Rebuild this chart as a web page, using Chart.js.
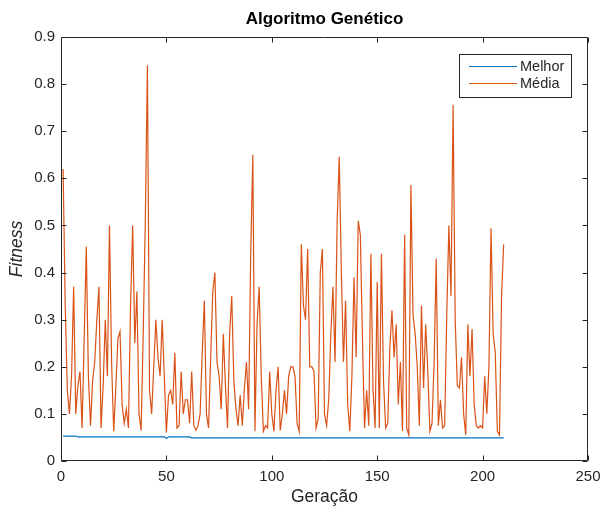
<!DOCTYPE html>
<html><head><meta charset="utf-8">
<script src="https://cdn.jsdelivr.net/npm/chart.js@4.4.0/dist/chart.umd.min.js"></script>
<style>html,body{margin:0;padding:0;background:#fff;overflow:hidden}canvas{display:block}</style>
</head><body>
<canvas id="c" width="603" height="508"></canvas>
<script>
const chartTitle = 'Algoritmo Genético';
const xLabel = 'Geração';
const yLabel = 'Fitness';
const seriesNames = ['Melhor', 'Média'];
const xTicks = [0, 50, 100, 150, 200, 250];
const yTicks = [0, 0.1, 0.2, 0.3, 0.4, 0.5, 0.6, 0.7, 0.8, 0.9];
const generations = Array.from({length: 210}, (_, i) => i + 1);

const melhor = [
  0.053,0.053,0.053,0.053,0.053,0.053,0.053,
  0.051,0.051,0.051,0.051,0.051,0.051,0.051,0.051,0.051,0.051,
  0.051,0.051,0.051,0.051,0.051,0.051,0.051,0.051,0.051,0.051,
  0.051,0.051,0.051,0.051,0.051,0.051,0.051,0.051,0.051,0.051,
  0.051,0.051,0.051,0.051,0.051,0.051,0.051,0.051,0.051,0.051,
  0.051,0.051,
  0.048,
  0.051,0.051,0.051,0.051,0.051,0.051,0.051,0.051,0.051,0.051,0.051,
  0.049,0.049,0.049,0.049,0.049,0.049,0.049,0.049,0.049,0.049,
  0.049,0.049,0.049,0.049,0.049,0.049,0.049,0.049,0.049,0.049,
  0.049,0.049,0.049,0.049,0.049,0.049,0.049,0.049,0.049,0.049,
  0.049,0.049,0.049,0.049,0.049,0.049,0.049,0.049,0.049,0.049,
  0.049,0.049,0.049,0.049,0.049,0.049,0.049,0.049,0.049,0.049,
  0.049,0.049,0.049,0.049,0.049,0.049,0.049,0.049,0.049,0.049,
  0.049,0.049,0.049,0.049,0.049,0.049,0.049,0.049,0.049,0.049,
  0.049,0.049,0.049,0.049,0.049,0.049,0.049,0.049,0.049,0.049,
  0.049,0.049,0.049,0.049,0.049,0.049,0.049,0.049,0.049,0.049,
  0.049,0.049,0.049,0.049,0.049,0.049,0.049,0.049,0.049,0.049,
  0.049,0.049,0.049,0.049,0.049,0.049,0.049,0.049,0.049,0.049,
  0.049,0.049,0.049,0.049,0.049,0.049,0.049,0.049,0.049,0.049,
  0.049,0.049,0.049,0.049,0.049,0.049,0.049,0.049,0.049,0.049,
  0.049,0.049,0.049,0.049,0.049,0.049,0.049,0.049,0.049,0.049,
  0.049,0.049,0.049,0.049,0.049,0.049,0.049,0.049,0.049
];

const media = [
  0.62,0.33,0.15,0.10,0.18,0.37,0.10,0.16,0.19,0.07,
  0.26,0.455,0.18,0.075,0.17,0.21,0.30,0.37,0.07,0.16,
  0.30,0.18,0.50,0.21,0.063,0.155,0.26,0.275,0.12,0.08,
  0.11,0.07,0.33,0.50,0.25,0.36,0.10,0.065,0.27,0.51,
  0.84,0.15,0.10,0.20,0.30,0.22,0.18,0.30,0.18,0.06,
  0.14,0.15,0.12,0.23,0.07,0.075,0.19,0.10,0.13,0.13,
  0.08,0.19,0.075,0.065,0.075,0.10,0.23,0.34,0.10,0.07,
  0.22,0.36,0.40,0.21,0.18,0.11,0.27,0.16,0.07,0.27,
  0.35,0.17,0.11,0.075,0.14,0.075,0.155,0.21,0.11,0.44,
  0.65,0.063,0.29,0.37,0.18,0.063,0.075,0.07,0.19,0.10,
  0.063,0.15,0.20,0.065,0.10,0.15,0.10,0.18,0.20,0.20,
  0.18,0.08,0.063,0.46,0.33,0.30,0.45,0.20,0.20,0.19,
  0.07,0.09,0.40,0.45,0.10,0.075,0.13,0.27,0.37,0.21,
  0.51,0.646,0.40,0.21,0.34,0.12,0.063,0.18,0.39,0.22,
  0.51,0.48,0.26,0.07,0.15,0.075,0.44,0.155,0.07,0.38,
  0.07,0.44,0.17,0.07,0.08,0.24,0.32,0.22,0.29,0.12,
  0.21,0.063,0.48,0.07,0.055,0.586,0.31,0.27,0.20,0.075,
  0.33,0.155,0.29,0.19,0.063,0.08,0.21,0.43,0.075,0.13,
  0.07,0.075,0.31,0.50,0.35,0.756,0.30,0.16,0.155,0.22,
  0.10,0.055,0.29,0.18,0.28,0.12,0.075,0.07,0.075,0.07,
  0.18,0.10,0.20,0.494,0.27,0.23,0.063,0.055,0.35,0.46
];

const colors = ['#0072BD', '#D95319'];
const AX = '#262626';
const FONT = "'Liberation Sans', Arial, Helvetica, sans-serif";

const framePlugin = {
  id: 'frame',
  afterDatasetsDraw(chart) {
    const {ctx, chartArea: a, scales: {x, y}} = chart;
    const L = Math.round(a.left) + 0.5, R = Math.round(a.right) - 0.5;
    const T = Math.round(a.top) + 0.5, B = Math.round(a.bottom) - 0.5;
    ctx.save();
    ctx.strokeStyle = AX;
    ctx.lineWidth = 1;
    ctx.beginPath();
    ctx.rect(L, T, R - L, B - T);
    const tl = 5;
    xTicks.forEach(v => {
      const p = Math.round(x.getPixelForValue(v)) + 0.5;
      ctx.moveTo(p, B); ctx.lineTo(p, B - tl);
      ctx.moveTo(p, T); ctx.lineTo(p, T + tl);
    });
    yTicks.forEach(v => {
      const p = Math.round(y.getPixelForValue(v)) + 0.5;
      ctx.moveTo(L, p); ctx.lineTo(L + tl, p);
      ctx.moveTo(R, p); ctx.lineTo(R - tl, p);
    });
    ctx.stroke();
    ctx.restore();
  },
  afterDraw(chart) {
    const {ctx, chartArea: a} = chart;
    ctx.save();
    ctx.fillStyle = '#000';
    ctx.font = 'bold 17px ' + FONT;
    ctx.textAlign = 'center';
    ctx.textBaseline = 'middle';
    ctx.fillText(chartTitle, (a.left + a.right) / 2, 19);
    const bx = 459.5, by = 54.5, bw = 112, bh = 43;
    ctx.fillStyle = '#fff';
    ctx.fillRect(bx, by, bw, bh);
    ctx.strokeStyle = AX;
    ctx.lineWidth = 1;
    ctx.strokeRect(bx, by, bw, bh);
    ctx.font = '14.5px ' + FONT;
    ctx.textAlign = 'left';
    chart.data.datasets.forEach((ds, i) => {
      const ly = 66 + i * 17;
      ctx.strokeStyle = ds.borderColor;
      ctx.beginPath();
      ctx.moveTo(469, ly + 0.5); ctx.lineTo(517, ly + 0.5);
      ctx.stroke();
      ctx.fillStyle = AX;
      ctx.fillText(ds.label, 520, ly + 1);
    });
    ctx.restore();
  }
};

new Chart(document.getElementById('c'), {
  type: 'line',
  data: {
    datasets: [
      { label: seriesNames[0], data: generations.map((g, i) => ({x: g, y: melhor[i]})),
        borderColor: colors[0], borderWidth: 1.2, pointRadius: 0, tension: 0, fill: false },
      { label: seriesNames[1], data: generations.map((g, i) => ({x: g, y: media[i]})),
        borderColor: colors[1], borderWidth: 1.2, pointRadius: 0, tension: 0, fill: false }
    ]
  },
  options: {
    responsive: false,
    animation: false,
    devicePixelRatio: 1,
    layout: { padding: { top: 37, right: 15, left: 0, bottom: 0 } },
    plugins: { legend: { display: false }, title: { display: false }, tooltip: { enabled: false } },
    scales: {
      x: {
        type: 'linear', min: 0, max: 250,
        afterBuildTicks: s => { s.ticks = xTicks.map(v => ({value: v})); },
        afterFit: s => { s.height = 47; s.paddingLeft = 0; s.paddingRight = 0; },
        grid: { display: false, drawTicks: false },
        border: { display: false },
        ticks: { color: AX, font: { family: FONT, size: 15 }, padding: 7, maxRotation: 0 },
        title: { display: true, text: xLabel, color: AX, font: { family: FONT, size: 17.5 }, padding: { top: 0, bottom: 0 } }
      },
      y: {
        type: 'linear', min: 0, max: 0.9,
        afterBuildTicks: s => { s.ticks = yTicks.map(v => ({value: v})); },
        afterFit: s => { s.width = 61; s.paddingTop = 0; s.paddingBottom = 0; },
        grid: { display: false, drawTicks: false },
        border: { display: false },
        ticks: { color: AX, font: { family: FONT, size: 15 }, padding: 6,
                 callback: v => String(+v.toFixed(1)) },
        title: { display: true, text: yLabel, color: AX, font: { family: FONT, size: 17.5, style: 'italic' }, padding: { top: 7, bottom: 0 } }
      }
    }
  },
  plugins: [framePlugin]
});
</script>
</body></html>
